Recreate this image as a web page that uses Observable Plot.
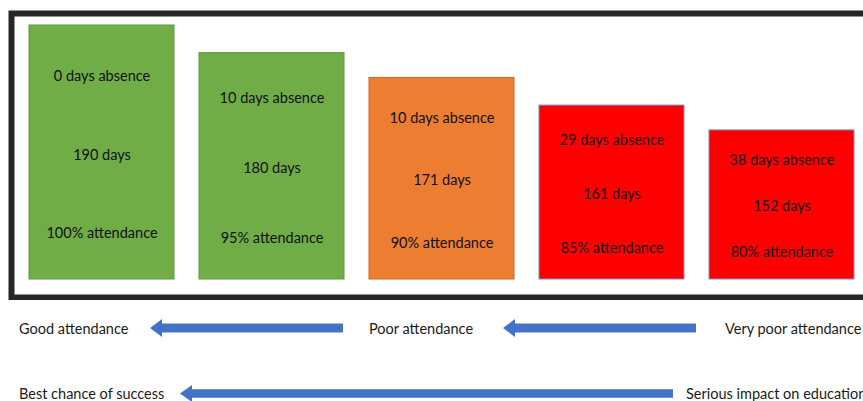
<!DOCTYPE html>
<html>
<head>
<meta charset="utf-8">
<script src="https://cdn.jsdelivr.net/npm/d3@7"></script>
<script src="https://cdn.jsdelivr.net/npm/@observablehq/plot@0.6"></script>
<style>
  html, body { margin: 0; padding: 0; background: #fff; overflow: hidden; width: 863px; height: 401px; }
  #chart svg { display: block; overflow: hidden; }
  .cap { position: relative; width: 863px; height: 101px; font-family: Lato, "Open Sans", sans-serif; font-size: 14.5px; color: #1a1a1a; }
  .cap span { position: absolute; line-height: 20px; white-space: nowrap; }
  .arrow { position: absolute; background: #4472C4;
    clip-path: polygon(0 50%, 12px 0, 12px 25%, 100% 25%, 100% 75%, 12px 75%, 12px 100%); }
</style>
</head>
<body>
<div id="chart"></div>
<div class="cap">
  <span style="left:19px;top:19px">Good attendance</span>
  <div class="arrow" style="left:150px;top:19px;width:193px;height:18px"></div>
  <span style="left:369px;top:19px">Poor attendance</span>
  <div class="arrow" style="left:503px;top:19px;width:193px;height:18px"></div>
  <span style="left:725px;top:19px">Very poor attendance</span>
  <span style="left:19px;top:84px">Best chance of success</span>
  <div class="arrow" style="left:180px;top:85px;width:493px;height:17px"></div>
  <span style="left:686px;top:84px">Serious impact on education</span>
</div>
<script>
// ---- data ----
const daysAbsent = [0, 10, 10, 29, 38];
const daysAttended = [190, 180, 171, 161, 152];
const attendancePct = [100, 95, 90, 85, 80];
const level = ["Good", "Good", "Poor", "Very poor", "Very poor"];

// ---- styles ----
const levelFill = { "Good": "#70AD47", "Poor": "#ED7D31", "Very poor": "#FF0000" };
const levelStroke = { "Good": "#5E9A3C", "Poor": "#C8692B", "Very poor": "#7F8FBF" };

const data = daysAttended.map((d, i) => ({
  key: `${d} days`,
  days: d,
  absent: daysAbsent[i],
  pct: attendancePct[i],
  level: level[i]
}));

const yBase = 98;
const at = f => d => d.days - f * (d.days - yBase);

const chart = Plot.plot({
  width: 863,
  height: 300,
  marginLeft: 27,
  marginRight: 6,
  marginTop: 25,
  marginBottom: 21,
  x: { type: "band", domain: data.map(d => d.key), paddingInner: 0.146, paddingOuter: 0, axis: null },
  y: { domain: [yBase, 190], axis: null },
  color: { type: "identity" },
  style: { fontFamily: "Lato, 'Open Sans', sans-serif", fontSize: "14.5px", background: "white" },
  marks: [
    Plot.frame({ stroke: "#262626", strokeWidth: 6, insetLeft: -16, insetTop: -12, insetBottom: -18, insetRight: -30 }),
    Plot.barY(data, {
      x: "key", y1: yBase, y2: "days",
      fill: d => levelFill[d.level], stroke: d => levelStroke[d.level], strokeWidth: 1
    }),
    Plot.text(data, { x: "key", y: at(0.2), text: d => `${d.absent} days absence`, fill: "#111", fontSize: 14.5 }),
    Plot.text(data, { x: "key", y: at(0.51), text: d => `${d.days} days`, fill: "#111", fontSize: 14.5 }),
    Plot.text(data, { x: "key", y: at(0.82), text: d => `${d.pct}% attendance`, fill: "#111", fontSize: 14.5 })
  ]
});
document.getElementById("chart").appendChild(chart);
</script>
</body>
</html>
